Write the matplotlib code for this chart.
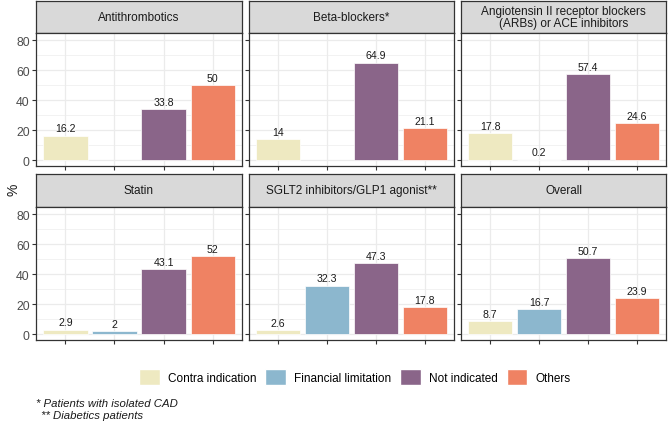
import numpy as np
import matplotlib
matplotlib.use("Agg")
import matplotlib.pyplot as plt
from matplotlib.patches import Patch

plt.rcParams['font.family'] = ['Liberation Sans', 'DejaVu Sans']

drugs = ["Antithrombotics", "Beta-blockers*",
         "Angiotensin II receptor blockers\n(ARBs) or ACE inhibitors",
         "Statin", "SGLT2 inhibitors/GLP1 agonist**", "Overall"]
reasons = ["Contra indication", "Financial limitation", "Not indicated", "Others"]
colors = ["#EEE9C1", "#8CB7CE", "#8A6589", "#EF8263"]

antithrombotics = [16.2, None, 33.8, 50]
beta_blockers = [14, None, 64.9, 21.1]
arbs_ace = [17.8, 0.2, 57.4, 24.6]
statin = [2.9, 2, 43.1, 52]
sglt2_glp1 = [2.6, 32.3, 47.3, 17.8]
overall = [8.7, 16.7, 50.7, 23.9]
values = [antithrombotics, beta_blockers, arbs_ace, statin, sglt2_glp1, overall]

W, H = 668, 427
fig = plt.figure(figsize=(W / 100, H / 100), dpi=100)

def px_axes(x0, y0, x1, y1):
    # pixel box, origin at top-left
    return fig.add_axes([x0 / W, 1 - y1 / H, (x1 - x0) / W, (y1 - y0) / H])

col_x = [(36, 242), (249, 454), (461, 666)]
row_y = [((2, 34), (34, 167)), ((175, 208), (208, 341))]
x = np.arange(1, 5)

for i, (name, vals) in enumerate(zip(drugs, values)):
    r, c = divmod(i, 3)
    (sy0, sy1), (py0, py1) = row_y[r]
    x0, x1 = col_x[c]

    st = px_axes(x0, sy0, x1, sy1)
    st.set_facecolor("#D9D9D9")
    st.set_xticks([])
    st.set_yticks([])
    for sp in st.spines.values():
        sp.set_color("#333333")
        sp.set_linewidth(0.9)
    st.text(0.5, 0.5, name, ha="center", va="center", fontsize=8.5,
            color="#1A1A1A", transform=st.transAxes, linespacing=1.0)

    ax = px_axes(x0, py0, x1, py1)
    ax.set_xlim(0.4, 4.6)
    ax.set_ylim(-4.0, 84.7)
    ax.set_yticks([0, 20, 40, 60, 80])
    ax.set_yticks([10, 30, 50, 70], minor=True)
    ax.set_xticks(x)
    ax.set_xticklabels([])
    ax.grid(True, which="major", color="#EBEBEB", linewidth=0.9)
    ax.grid(True, which="minor", axis="y", color="#EBEBEB", linewidth=0.45)
    ax.set_axisbelow(True)
    ax.tick_params(which="minor", length=0)
    ax.tick_params(which="major", length=3, width=0.8, color="#333333",
                   labelsize=8.8, labelcolor="#4D4D4D", pad=1.5)
    if c != 0:
        ax.set_yticklabels([])
    for sp in ax.spines.values():
        sp.set_color("#333333")
        sp.set_linewidth(0.9)

    for xi, v, col in zip(x, vals, colors):
        if v is None:
            continue
        ax.bar(xi, v, width=0.9, color=col, edgecolor="white", linewidth=0.5)
        ax.text(xi, v + 1.5, f"{v:g}", ha="center", va="bottom",
                fontsize=7.6, color="#1A1A1A")

fig.text(13 / W, 1 - 190 / H, "%", rotation=90, ha="center", va="center",
         fontsize=10, color="#1A1A1A")

handles = [Patch(facecolor=col, edgecolor="white", label=lab)
           for col, lab in zip(colors, reasons)]
fig.legend(handles=handles, loc="center", bbox_to_anchor=(355 / W, 1 - 378 / H),
           ncol=4, frameon=False, fontsize=8.5, handlelength=1.75, handleheight=1.75,
           handletextpad=0.7, columnspacing=0.75, borderpad=0.2)

fig.text(36 / W, 1 - 404 / H, "* Patients with isolated CAD", fontsize=8.2,
         style="italic", va="center", color="#1A1A1A")
fig.text(38 / W, 1 - 416 / H, " ** Diabetics patients", fontsize=8.2,
         style="italic", va="center", color="#1A1A1A")

fig.savefig("out.png", dpi=100)
